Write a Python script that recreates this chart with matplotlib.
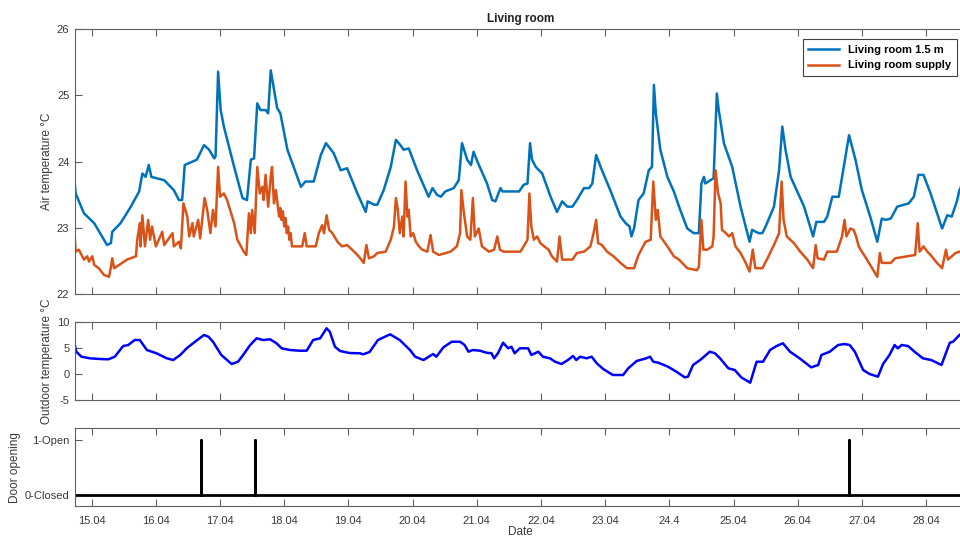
import numpy as np
import matplotlib
matplotlib.use("Agg")
import matplotlib.pyplot as plt

plt.rcParams['font.family'] = ['Liberation Sans', 'DejaVu Sans']
plt.rcParams['axes.unicode_minus'] = False

# day of April (fractional), temperature in degC
room_15m = [
    (14.72, 23.85), (14.75, 23.52), (14.88, 23.22), (15.04, 23.07), (15.24, 22.74), (15.30, 22.77),
    (15.32, 22.94), (15.45, 23.07), (15.61, 23.32), (15.74, 23.55), (15.79, 23.82), (15.84, 23.77),
    (15.89, 23.95), (15.93, 23.77), (16.13, 23.72), (16.28, 23.57), (16.36, 23.42), (16.41, 23.42),
    (16.45, 23.95), (16.64, 24.03), (16.75, 24.25), (16.83, 24.18), (16.91, 24.05), (16.93, 24.08),
    (16.97, 25.36), (17.01, 24.78), (17.06, 24.53), (17.22, 23.92), (17.35, 23.45), (17.42, 23.42),
    (17.48, 24.03), (17.53, 24.05), (17.58, 24.88), (17.63, 24.78), (17.71, 24.78), (17.75, 24.73),
    (17.79, 25.38), (17.89, 24.81), (17.94, 24.73), (18.05, 24.18), (18.26, 23.62), (18.33, 23.70),
    (18.46, 23.70), (18.57, 24.10), (18.65, 24.28), (18.77, 24.13), (18.88, 23.87), (18.98, 23.90),
    (19.14, 23.52), (19.27, 23.24), (19.30, 23.40), (19.40, 23.35), (19.45, 23.35), (19.55, 23.57),
    (19.66, 23.92), (19.74, 24.33), (19.81, 24.25), (19.86, 24.18), (19.94, 24.20), (20.07, 23.87),
    (20.25, 23.47), (20.31, 23.60), (20.38, 23.50), (20.44, 23.47), (20.51, 23.55), (20.64, 23.60),
    (20.72, 23.72), (20.77, 24.28), (20.85, 24.03), (20.91, 23.95), (20.95, 24.15), (21.01, 24.00),
    (21.16, 23.67), (21.24, 23.42), (21.29, 23.40), (21.37, 23.60), (21.40, 23.55), (21.66, 23.55),
    (21.73, 23.65), (21.79, 23.67), (21.83, 24.28), (21.86, 24.03), (21.92, 23.92), (22.02, 23.82),
    (22.15, 23.47), (22.25, 23.24), (22.33, 23.40), (22.41, 23.32), (22.49, 23.32), (22.56, 23.42),
    (22.67, 23.60), (22.75, 23.60), (22.80, 23.67), (22.86, 24.10), (22.95, 23.87), (23.08, 23.57),
    (23.24, 23.17), (23.32, 23.07), (23.38, 23.02), (23.41, 22.87), (23.45, 22.99), (23.52, 23.42),
    (23.60, 23.52), (23.68, 23.87), (23.73, 23.92), (23.76, 25.16), (23.79, 24.73), (23.86, 24.18),
    (23.97, 23.77), (24.07, 23.55), (24.17, 23.27), (24.28, 22.99), (24.38, 22.92), (24.46, 22.92),
    (24.50, 23.67), (24.54, 23.77), (24.56, 23.67), (24.69, 23.75), (24.74, 25.03), (24.77, 24.78),
    (24.85, 24.28), (24.98, 23.92), (25.11, 23.32), (25.25, 22.79), (25.29, 22.97), (25.39, 22.92),
    (25.45, 22.92), (25.50, 23.02), (25.63, 23.32), (25.71, 23.87), (25.76, 24.53), (25.81, 24.18),
    (25.89, 23.77), (26.10, 23.32), (26.24, 22.87), (26.29, 23.09), (26.41, 23.09), (26.46, 23.17),
    (26.54, 23.47), (26.64, 23.47), (26.80, 24.40), (26.90, 24.03), (27.00, 23.57), (27.13, 23.17),
    (27.24, 22.79), (27.31, 23.14), (27.37, 23.12), (27.45, 23.14), (27.55, 23.32), (27.73, 23.37),
    (27.81, 23.47), (27.88, 23.80), (27.96, 23.80), (28.07, 23.52), (28.25, 22.99), (28.33, 23.19),
    (28.40, 23.17), (28.48, 23.40), (28.52, 23.57), (28.62, 23.75),
]

room_supply = [
    (14.72, 23.12), (14.75, 22.64), (14.80, 22.67), (14.88, 22.52), (14.93, 22.57), (14.96, 22.49),
    (15.01, 22.57), (15.04, 22.44), (15.11, 22.39), (15.19, 22.29), (15.27, 22.26), (15.30, 22.41),
    (15.32, 22.54), (15.35, 22.39), (15.43, 22.44), (15.55, 22.52), (15.69, 22.57), (15.71, 22.82),
    (15.75, 23.07), (15.76, 22.72), (15.79, 23.19), (15.83, 22.72), (15.88, 23.12), (15.91, 22.82),
    (15.94, 23.02), (16.00, 22.72), (16.10, 22.94), (16.13, 22.74), (16.26, 22.92), (16.28, 22.72),
    (16.36, 22.79), (16.39, 22.69), (16.43, 23.37), (16.49, 23.17), (16.52, 22.87), (16.57, 23.07),
    (16.59, 22.87), (16.66, 23.12), (16.69, 22.84), (16.76, 23.45), (16.80, 23.27), (16.85, 22.92),
    (16.89, 23.27), (16.93, 23.02), (16.97, 23.92), (17.00, 23.47), (17.06, 23.52), (17.11, 23.42),
    (17.22, 23.07), (17.27, 22.82), (17.37, 22.64), (17.41, 22.59), (17.45, 23.22), (17.48, 22.92),
    (17.50, 23.27), (17.54, 22.92), (17.58, 23.92), (17.62, 23.52), (17.66, 23.62), (17.68, 23.42),
    (17.71, 23.80), (17.75, 23.32), (17.79, 23.77), (17.81, 23.92), (17.84, 23.37), (17.87, 23.57),
    (17.92, 23.17), (17.94, 23.30), (17.96, 23.12), (17.98, 23.25), (18.00, 23.02), (18.02, 23.15),
    (18.04, 22.92), (18.06, 23.02), (18.08, 22.82), (18.10, 22.92), (18.12, 22.72), (18.28, 22.72),
    (18.32, 22.92), (18.35, 22.72), (18.49, 22.72), (18.54, 22.92), (18.59, 23.04), (18.62, 22.92),
    (18.66, 23.19), (18.70, 22.97), (18.75, 22.92), (18.83, 22.79), (18.90, 22.72), (18.98, 22.74),
    (19.09, 22.64), (19.16, 22.57), (19.24, 22.47), (19.28, 22.74), (19.32, 22.54), (19.40, 22.57),
    (19.45, 22.62), (19.58, 22.64), (19.66, 22.82), (19.71, 23.02), (19.74, 23.45), (19.77, 23.27),
    (19.80, 22.92), (19.84, 23.17), (19.86, 22.87), (19.89, 23.70), (19.92, 23.17), (19.94, 23.27),
    (19.97, 22.87), (20.01, 22.92), (20.05, 22.79), (20.10, 22.72), (20.15, 22.67), (20.23, 22.64),
    (20.28, 22.89), (20.32, 22.64), (20.41, 22.59), (20.59, 22.64), (20.69, 22.72), (20.74, 22.92),
    (20.76, 23.57), (20.80, 23.22), (20.85, 22.87), (20.90, 22.82), (20.94, 23.45), (20.97, 22.87),
    (21.03, 22.99), (21.08, 22.72), (21.19, 22.64), (21.27, 22.67), (21.32, 22.87), (21.36, 22.67),
    (21.42, 22.64), (21.68, 22.64), (21.73, 22.72), (21.79, 22.82), (21.82, 23.52), (21.85, 23.02),
    (21.89, 22.82), (21.94, 22.87), (21.99, 22.77), (22.05, 22.72), (22.12, 22.67), (22.17, 22.57),
    (22.25, 22.49), (22.29, 22.87), (22.33, 22.52), (22.49, 22.52), (22.56, 22.62), (22.67, 22.64),
    (22.77, 22.72), (22.82, 22.92), (22.86, 23.12), (22.89, 22.77), (22.95, 22.74), (23.03, 22.64),
    (23.13, 22.57), (23.24, 22.47), (23.34, 22.39), (23.45, 22.39), (23.52, 22.59), (23.63, 22.79),
    (23.71, 22.82), (23.75, 23.70), (23.79, 23.12), (23.82, 23.27), (23.86, 22.87), (23.97, 22.72),
    (24.07, 22.57), (24.15, 22.52), (24.28, 22.39), (24.43, 22.36), (24.46, 22.41), (24.50, 23.12),
    (24.53, 22.67), (24.59, 22.67), (24.67, 22.72), (24.69, 22.87), (24.72, 23.87), (24.76, 23.52),
    (24.80, 23.37), (24.82, 22.97), (24.88, 22.92), (24.93, 22.87), (24.98, 22.92), (25.03, 22.72),
    (25.11, 22.62), (25.19, 22.47), (25.25, 22.34), (25.30, 22.67), (25.34, 22.39), (25.45, 22.39),
    (25.52, 22.52), (25.63, 22.74), (25.71, 22.92), (25.75, 23.70), (25.78, 23.12), (25.83, 22.87),
    (25.94, 22.77), (26.04, 22.64), (26.15, 22.52), (26.24, 22.39), (26.28, 22.74), (26.31, 22.54),
    (26.41, 22.52), (26.46, 22.64), (26.61, 22.64), (26.69, 22.87), (26.73, 23.12), (26.76, 22.87),
    (26.82, 22.99), (26.87, 22.97), (26.91, 22.87), (26.95, 22.72), (27.00, 22.64), (27.08, 22.52),
    (27.16, 22.39), (27.24, 22.26), (27.28, 22.62), (27.31, 22.47), (27.45, 22.47), (27.52, 22.54),
    (27.70, 22.57), (27.83, 22.59), (27.87, 23.07), (27.90, 22.64), (27.96, 22.72), (28.02, 22.64),
    (28.07, 22.59), (28.17, 22.47), (28.25, 22.39), (28.31, 22.67), (28.34, 22.52), (28.46, 22.62),
    (28.52, 22.64), (28.62, 22.64),
]

outdoor = [
    (14.72, 6.58), (14.76, 4.33), (14.84, 3.36), (14.97, 3.05), (15.13, 2.92), (15.26, 2.86),
    (15.36, 3.36), (15.49, 5.42), (15.57, 5.62), (15.67, 6.58), (15.75, 6.58), (15.86, 4.65),
    (16.01, 4.02), (16.17, 3.05), (16.27, 2.72), (16.38, 3.69), (16.48, 4.98), (16.61, 6.25),
    (16.75, 7.55), (16.82, 7.22), (16.89, 6.25), (17.02, 3.69), (17.18, 1.95), (17.28, 2.39),
    (17.36, 3.69), (17.47, 5.62), (17.57, 6.91), (17.67, 6.58), (17.78, 6.72), (17.88, 5.95),
    (17.96, 4.98), (18.09, 4.65), (18.24, 4.52), (18.35, 4.52), (18.45, 6.58), (18.56, 6.91),
    (18.66, 8.84), (18.71, 8.19), (18.79, 5.29), (18.87, 4.46), (19.02, 4.07), (19.18, 4.02),
    (19.23, 3.82), (19.33, 4.27), (19.46, 6.58), (19.65, 7.68), (19.80, 6.58), (19.96, 4.65),
    (20.04, 3.36), (20.17, 2.72), (20.32, 3.88), (20.37, 3.36), (20.48, 5.17), (20.61, 6.25),
    (20.74, 6.25), (20.81, 5.62), (20.87, 4.33), (20.94, 4.65), (21.05, 4.52), (21.15, 4.13),
    (21.23, 4.02), (21.27, 3.05), (21.33, 4.02), (21.41, 6.06), (21.49, 4.98), (21.54, 5.29),
    (21.59, 4.02), (21.67, 4.98), (21.80, 4.98), (21.85, 3.69), (21.96, 4.33), (22.03, 3.36),
    (22.14, 3.05), (22.22, 2.39), (22.32, 1.95), (22.42, 2.72), (22.50, 3.50), (22.55, 2.72),
    (22.61, 3.36), (22.71, 3.05), (22.79, 3.36), (22.87, 2.08), (22.97, 0.98), (23.12, -0.17),
    (23.28, -0.17), (23.36, 1.12), (23.49, 2.53), (23.64, 3.05), (23.70, 3.36), (23.75, 2.39),
    (23.83, 2.20), (23.98, 1.43), (24.11, 0.46), (24.24, -0.62), (24.29, -0.50), (24.37, 1.76),
    (24.48, 2.72), (24.63, 4.33), (24.71, 4.02), (24.79, 3.05), (24.92, 1.12), (25.02, 0.79),
    (25.12, -0.62), (25.26, -1.66), (25.36, 2.39), (25.46, 2.39), (25.57, 4.65), (25.67, 5.42),
    (25.77, 5.95), (25.88, 4.33), (26.03, 3.05), (26.21, 1.31), (26.32, 1.76), (26.37, 3.69),
    (26.50, 4.33), (26.63, 5.62), (26.73, 5.81), (26.81, 5.62), (26.89, 4.33), (27.02, 0.79),
    (27.12, 0.02), (27.25, -0.50), (27.33, 1.95), (27.43, 3.69), (27.51, 5.62), (27.56, 4.98),
    (27.62, 5.62), (27.72, 5.42), (27.82, 4.33), (27.95, 3.05), (28.08, 2.72), (28.24, 1.76),
    (28.37, 6.06), (28.42, 6.25), (28.52, 7.55), (28.62, 8.30),
]

door_openings = [16.71, 17.55, 26.80]

day_ticks = list(range(15, 29))
day_labels = ['15.04', '16.04', '17.04', '18.04', '19.04', '20.04', '21.04',
              '22.04', '23.04', '24.4', '25.04', '26.04', '27.04', '28.04']

x_start, x_end = 14.74, 28.62

# door state as a 0/1 series with instant spikes
door_x = [x_start]
door_y = [0]
for t in door_openings:
    door_x += [t, t, t]
    door_y += [0, 1, 0]
door_x.append(x_end)
door_y.append(0)

spine_col = '#5f5f5f'
text_col = '#383838'


def style_axes(ax):
    for s in ax.spines.values():
        s.set_color(spine_col)
        s.set_linewidth(0.8)
    ax.tick_params(direction='in', length=5, width=0.8, color=spine_col,
                   labelcolor=text_col, labelsize=8,
                   top=True, bottom=True, right=False)
    ax.tick_params(axis='x', pad=7)
    ax.tick_params(axis='y', pad=4)
    ax.set_xlim(x_start, x_end)
    ax.set_xticks(day_ticks)


fig = plt.figure(figsize=(9.6, 5.38), dpi=100)
ax1 = fig.add_axes([0.0781, 0.4535, 0.928, 0.492])
ax2 = fig.add_axes([0.0781, 0.2565, 0.928, 0.1444])
ax3 = fig.add_axes([0.0781, 0.0595, 0.928, 0.1444])

t1, v1 = zip(*room_15m)
t2, v2 = zip(*room_supply)
ax1.plot(t1, v1, color='#0072BD', lw=1.8, label='Living room 1.5 m')
ax1.plot(t2, v2, color='#D95319', lw=1.8, label='Living room supply')
ax1.set_ylim(22, 26)
ax1.set_yticks([22, 23, 24, 25, 26])
ax1.set_ylabel('Air temperature °C', fontsize=8.5, color=text_col, labelpad=3)
ax1.set_title('Living room', fontsize=8.5, fontweight='bold', color='#202020', pad=5)
style_axes(ax1)
ax1.set_xticklabels([])
leg = ax1.legend(loc='upper right', bbox_to_anchor=(0.990, 0.962), borderaxespad=0,
                 fancybox=False, framealpha=1, edgecolor='#404040',
                 prop={'size': 8, 'weight': 'bold'}, handlelength=2.8,
                 borderpad=0.5, labelspacing=0.5)
leg.get_frame().set_linewidth(0.8)

to, vo = zip(*outdoor)
ax2.plot(to, vo, color='#0000FF', lw=1.8)
ax2.set_ylim(-5, 10)
ax2.set_yticks([-5, 0, 5, 10])
ax2.set_ylabel('Outdoor temperature °C', fontsize=8.5, color=text_col, labelpad=3)
style_axes(ax2)
ax2.set_xticklabels([])

ax3.plot(door_x, door_y, color='black', lw=2)
ax3.set_ylim(-0.19, 1.21)
ax3.set_yticks([0, 1])
ax3.set_yticklabels(['0-Closed', '1-Open'])
ax3.set_ylabel('Door opening', fontsize=8.5, color=text_col, labelpad=3)
style_axes(ax3)
ax3.set_xticklabels(day_labels)
ax3.set_xlabel('Date', fontsize=8.5, color=text_col, labelpad=0)

fig.savefig('out.png', dpi=100)
